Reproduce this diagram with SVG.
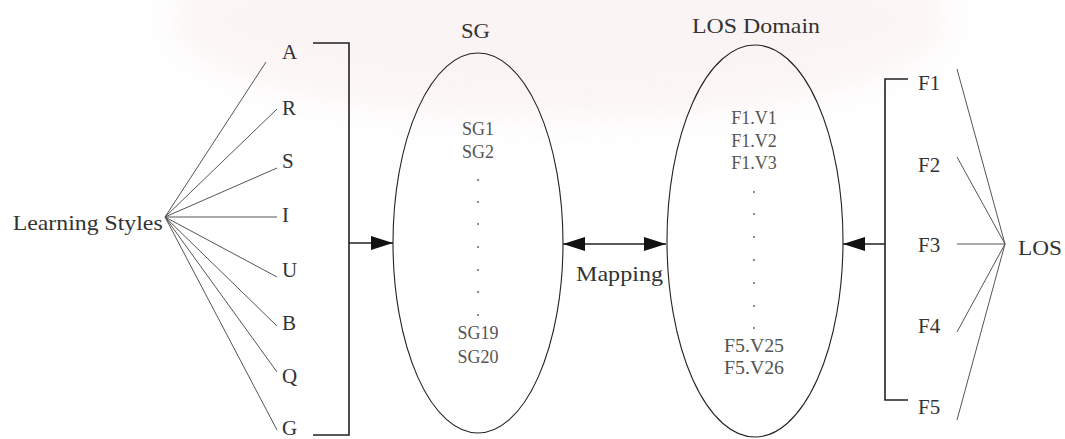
<svg xmlns="http://www.w3.org/2000/svg" width="1065" height="439" viewBox="0 0 1065 439">
  <style>
    .lbl { font-family: "Liberation Serif", "Times New Roman", serif; font-size: 21px; fill: #333; }
    .item { font-family: "Liberation Serif", "Times New Roman", serif; font-size: 18px; fill: #555; text-anchor: middle; }
    .dot { fill: #666; }
    .fan { stroke: #555; stroke-width: 1; fill: none; }
    .bracket { stroke: #222; stroke-width: 1.6; fill: none; }
    .set { stroke: #222; stroke-width: 1.1; fill: none; }
    .arrow { stroke: #222; stroke-width: 1.6; fill: none; }
  </style>
  <defs>
    <marker id="head" markerUnits="userSpaceOnUse" markerWidth="22" markerHeight="14" viewBox="0 0 22 14" refX="22" refY="7" orient="auto-start-reverse">
      <path d="M0,0 L22,7 L0,14 z" fill="#111"/>
    </marker>
    <filter id="soft" x="-50%" y="-50%" width="200%" height="200%">
      <feGaussianBlur stdDeviation="18"/>
    </filter>
  </defs>

  <rect width="1065" height="439" fill="#fff"/>
  <!-- faint tinted band across the top -->
  <ellipse cx="560" cy="20" rx="390" ry="100" fill="#f4e2e2" opacity="0.35" filter="url(#soft)"/>

  <!-- Learning Styles hub and its styles -->
  <g id="learning-styles">
    <text class="lbl" x="12.7" y="230" textLength="150" lengthAdjust="spacingAndGlyphs">Learning Styles</text>
  </g>
  <g id="style-A"><text class="lbl" x="282" y="59">A</text></g>
  <g id="style-R"><text class="lbl" x="282" y="115">R</text></g>
  <g id="style-S"><text class="lbl" x="282" y="168">S</text></g>
  <g id="style-I"><text class="lbl" x="282" y="222">I</text></g>
  <g id="style-U"><text class="lbl" x="282" y="277">U</text></g>
  <g id="style-B"><text class="lbl" x="282" y="330">B</text></g>
  <g id="style-Q"><text class="lbl" x="282" y="383">Q</text></g>
  <g id="style-G"><text class="lbl" x="282" y="435">G</text></g>

  <!-- SG set -->
  <g id="sg">
    <text class="lbl" x="461" y="38" textLength="29" lengthAdjust="spacingAndGlyphs">SG</text>
    <ellipse class="set" cx="478" cy="243" rx="85" ry="190"/>
    <text class="item" x="478" y="135">SG1</text>
    <text class="item" x="478" y="158">SG2</text>
    <circle class="dot" cx="478" cy="180" r="1"/>
    <circle class="dot" cx="478" cy="202" r="1"/>
    <circle class="dot" cx="478" cy="224" r="1"/>
    <circle class="dot" cx="478" cy="247" r="1"/>
    <circle class="dot" cx="478" cy="270" r="1"/>
    <circle class="dot" cx="478" cy="292" r="1"/>
    <circle class="dot" cx="478" cy="315" r="1"/>
    <text class="item" x="478" y="339">SG19</text>
    <text class="item" x="478" y="363">SG20</text>
  </g>

  <!-- LOS Domain set -->
  <g id="los-domain">
    <text class="lbl" x="692" y="33" textLength="128" lengthAdjust="spacingAndGlyphs">LOS Domain</text>
    <ellipse class="set" cx="755" cy="241" rx="88" ry="196"/>
    <text class="item" x="754" y="124">F1.V1</text>
    <text class="item" x="754" y="147">F1.V2</text>
    <text class="item" x="754" y="169">F1.V3</text>
    <circle class="dot" cx="754" cy="192" r="1"/>
    <circle class="dot" cx="754" cy="214" r="1"/>
    <circle class="dot" cx="754" cy="237" r="1"/>
    <circle class="dot" cx="754" cy="260" r="1"/>
    <circle class="dot" cx="754" cy="283" r="1"/>
    <circle class="dot" cx="754" cy="306" r="1"/>
    <circle class="dot" cx="754" cy="328" r="1"/>
    <text class="item" x="754" y="352" textLength="60" lengthAdjust="spacingAndGlyphs">F5.V25</text>
    <text class="item" x="754" y="374" textLength="60" lengthAdjust="spacingAndGlyphs">F5.V26</text>
  </g>

  <!-- LOS factors and hub -->
  <g id="factor-F1"><text class="lbl" x="918" y="90">F1</text></g>
  <g id="factor-F2"><text class="lbl" x="918" y="172">F2</text></g>
  <g id="factor-F3"><text class="lbl" x="918" y="252">F3</text></g>
  <g id="factor-F4"><text class="lbl" x="918" y="333">F4</text></g>
  <g id="factor-F5"><text class="lbl" x="918" y="414">F5</text></g>
  <g id="los">
    <text class="lbl" x="1018" y="255" textLength="44" lengthAdjust="spacingAndGlyphs">LOS</text>
  </g>

  <!-- Mapping label -->
  <g id="mapping">
    <text class="lbl" x="576" y="281" textLength="87" lengthAdjust="spacingAndGlyphs">Mapping</text>
  </g>

  <g id="connectors">
    <!-- fan from Learning Styles to each style -->
    <path class="fan" d="M165,217 L266,62 M165,217 L277,109 M165,217 L277,168 M165,217 L277,217 M165,217 L277,277 M165,217 L277,326 M165,217 L277,372 M165,217 L277,430"/>
    <!-- bracket gathering the styles -->
    <path class="bracket" d="M313,43 H349 V435 H313"/>
    <!-- styles into SG -->
    <line class="arrow" x1="349" y1="243" x2="393" y2="243" marker-end="url(#head)"/>
    <!-- SG <-> LOS Domain mapping -->
    <line class="arrow" x1="563" y1="244" x2="666" y2="244" marker-start="url(#head)" marker-end="url(#head)"/>
    <!-- bracket gathering the factors -->
    <path class="bracket" d="M908,79 H885 V400 H908"/>
    <!-- factors into LOS Domain -->
    <line class="arrow" x1="885" y1="244" x2="843" y2="244" marker-end="url(#head)"/>
    <!-- fan from LOS to each factor -->
    <path class="fan" d="M1005,244 L957,69 M1005,244 L957,157 M1005,244 L957,244 M1005,244 L957,332 M1005,244 L957,420"/>
  </g>
</svg>
